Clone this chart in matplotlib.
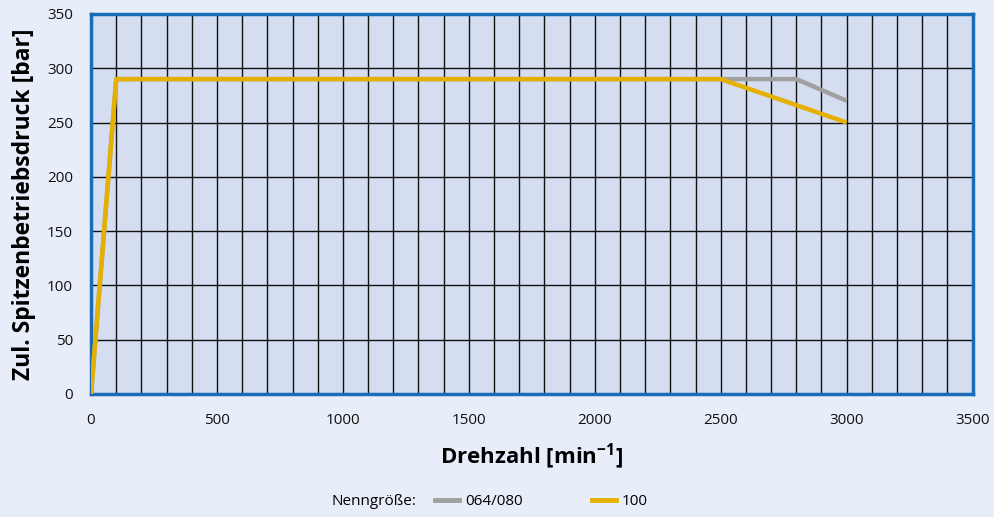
import matplotlib.pyplot as plt
from matplotlib.lines import Line2D

# Zulässiger Spitzenbetriebsdruck über Drehzahl
drehzahl_064 = [0, 100, 2800, 3000]
druck_064 = [0, 290, 290, 270]
drehzahl_100 = [0, 100, 2500, 3000]
druck_100 = [0, 290, 290, 250]

x_ticks = [0, 500, 1000, 1500, 2000, 2500, 3000, 3500]
y_ticks = [0, 50, 100, 150, 200, 250, 300, 350]

plt.rcParams['font.family'] = ['Open Sans', 'DejaVu Sans']

fig = plt.figure(figsize=(9.95, 5.17), dpi=100, facecolor='#e8eef9')
ax = fig.add_axes([0.0915, 0.238, 0.886, 0.735])
ax.set_facecolor('#d5ddf0')

# Gitter: vertikal alle 100 min^-1, horizontal alle 50 bar
for xv in range(100, 3500, 100):
    ax.axvline(xv, color='#111111', lw=1.0, zorder=1)
for yv in range(50, 350, 50):
    ax.axhline(yv, color='#111111', lw=1.0, zorder=1)

ax.plot(drehzahl_064, druck_064, color='#a0a0a0', lw=3.2, zorder=3, solid_capstyle='butt')
ax.plot(drehzahl_100, druck_100, color='#e6b000', lw=3.2, zorder=4, solid_capstyle='butt')

ax.set_xlim(0, 3500)
ax.set_ylim(0, 350)
ax.set_xticks(x_ticks)
ax.set_yticks(y_ticks)
ax.tick_params(length=0, labelsize=11, colors='#111111')
ax.tick_params(axis='x', pad=14)
ax.tick_params(axis='y', pad=13)

for s in ax.spines.values():
    s.set_color('#1a6bb8')
    s.set_linewidth(2.5)

ax.set_xlabel('Drehzahl [min$^{\\mathregular{-1}}$]', fontsize=16, fontweight='bold', labelpad=10)
ax.set_ylabel('Zul. Spitzenbetriebsdruck [bar]', fontsize=16.5, fontweight='bold', labelpad=8)

handles = [Line2D([], [], color='#a0a0a0', lw=3.5),
           Line2D([], [], color='#e6b000', lw=3.5)]
fig.text(0.418, 0.03, 'Nenngröße:', fontsize=11, ha='right', va='center')
fig.legend(handles, ['064/080', '100'], loc='center left', bbox_to_anchor=(0.423, 0.03),
           ncol=2, frameon=False, fontsize=11, handlelength=1.6, handletextpad=0.4,
           columnspacing=4.5)

fig.savefig('out.png', dpi=100, facecolor=fig.get_facecolor())
